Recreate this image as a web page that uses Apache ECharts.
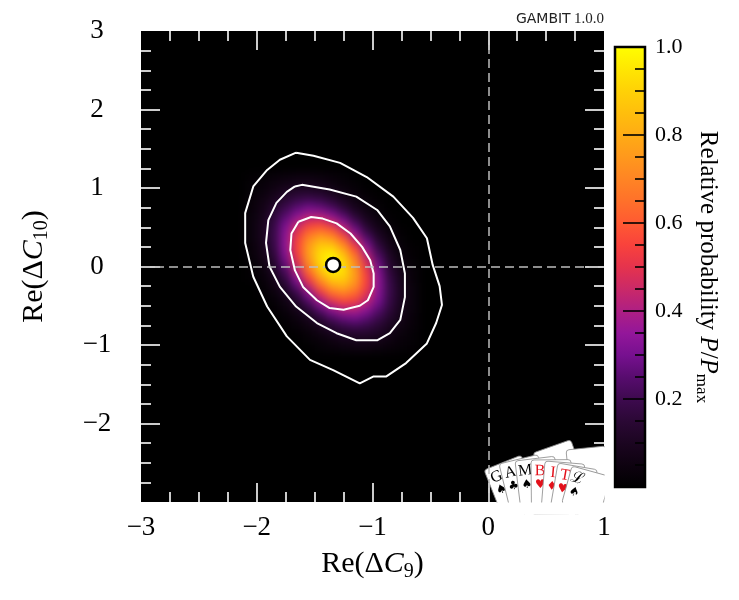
<!DOCTYPE html>
<html>
<head>
<meta charset="utf-8">
<script src="https://cdn.jsdelivr.net/npm/echarts@6/dist/echarts.min.js"></script>
<style>
  html, body { margin: 0; padding: 0; background: #fff; }
  #wrap { position: relative; width: 739px; height: 600px; }
  #heat, #main { position: absolute; left: 0; top: 0; width: 739px; height: 600px; }
  #heat { background: #000; filter: blur(4px); }
</style>
</head>
<body>
<div id="wrap"><div id="heat"></div><div id="main"></div></div>
<script>
// axis ranges and tick labels
const xRange = [-3, 1];
const yRange = [-3, 3];
const xTicks = [-3, -2, -1, 0, 1];
const yTicks = [-2, -1, 0, 1, 2, 3];
const cbTicks = [0.2, 0.4, 0.6, 0.8, 1.0];

// relative probability (cell centres, step 0.1)
const heatX = [-2.05, -1.95, -1.85, -1.75, -1.65, -1.55, -1.45, -1.35, -1.25, -1.15, -1.05, -0.95, -0.85, -0.75, -0.65];
const heatY = [-1.05, -0.95, -0.85, -0.75, -0.65, -0.55, -0.45, -0.35, -0.25, -0.15, -0.05,
               0.05, 0.15, 0.25, 0.35, 0.45, 0.55, 0.65, 0.75, 0.85, 0.95, 1.05, 1.15];
const heatZ = [
  [0, 0, 0, 0, 0, 0, 0.02, 0.03, 0.04, 0.05, 0.05, 0.04, 0.03, 0.02, 0.01],
  [0, 0, 0, 0, 0, 0.02, 0.03, 0.05, 0.07, 0.08, 0.08, 0.07, 0.05, 0.03, 0.02],
  [0, 0, 0, 0, 0.01, 0.03, 0.06, 0.09, 0.12, 0.13, 0.13, 0.11, 0.07, 0.04, 0.02],
  [0, 0, 0, 0.01, 0.03, 0.06, 0.10, 0.15, 0.19, 0.21, 0.19, 0.15, 0.10, 0.06, 0.03],
  [0, 0, 0, 0.02, 0.05, 0.09, 0.16, 0.23, 0.28, 0.30, 0.26, 0.20, 0.13, 0.07, 0.03],
  [0, 0, 0.01, 0.04, 0.08, 0.15, 0.25, 0.34, 0.40, 0.40, 0.34, 0.25, 0.16, 0.08, 0.04],
  [0, 0, 0.02, 0.06, 0.12, 0.23, 0.36, 0.47, 0.54, 0.52, 0.42, 0.30, 0.18, 0.09, 0.04],
  [0, 0.01, 0.04, 0.09, 0.18, 0.32, 0.48, 0.62, 0.67, 0.62, 0.49, 0.33, 0.19, 0.09, 0.04],
  [0, 0.02, 0.06, 0.13, 0.26, 0.43, 0.62, 0.76, 0.80, 0.71, 0.54, 0.34, 0.19, 0.09, 0.04],
  [0.01, 0.03, 0.08, 0.18, 0.34, 0.55, 0.75, 0.89, 0.89, 0.76, 0.55, 0.34, 0.18, 0.08, 0.03],
  [0.01, 0.04, 0.11, 0.23, 0.42, 0.65, 0.86, 0.97, 0.93, 0.76, 0.53, 0.32, 0.16, 0.07, 0.03],
  [0.02, 0.06, 0.13, 0.28, 0.48, 0.72, 0.92, 1.00, 0.92, 0.72, 0.48, 0.28, 0.13, 0.06, 0.02],
  [0.03, 0.07, 0.16, 0.32, 0.53, 0.76, 0.93, 0.97, 0.86, 0.65, 0.42, 0.23, 0.11, 0.04, 0.01],
  [0.03, 0.08, 0.18, 0.34, 0.55, 0.76, 0.89, 0.89, 0.75, 0.55, 0.34, 0.18, 0.08, 0.03, 0.01],
  [0.04, 0.09, 0.19, 0.34, 0.54, 0.71, 0.80, 0.76, 0.62, 0.43, 0.26, 0.13, 0.06, 0.02, 0],
  [0.04, 0.09, 0.19, 0.33, 0.49, 0.62, 0.67, 0.62, 0.48, 0.32, 0.18, 0.09, 0.04, 0.01, 0],
  [0.04, 0.09, 0.18, 0.30, 0.42, 0.52, 0.54, 0.47, 0.36, 0.23, 0.12, 0.06, 0.02, 0, 0],
  [0.04, 0.08, 0.16, 0.25, 0.34, 0.40, 0.40, 0.34, 0.25, 0.15, 0.08, 0.04, 0.01, 0, 0],
  [0.03, 0.07, 0.13, 0.20, 0.26, 0.30, 0.28, 0.23, 0.16, 0.09, 0.05, 0.02, 0, 0, 0],
  [0.03, 0.06, 0.10, 0.15, 0.19, 0.21, 0.19, 0.15, 0.10, 0.06, 0.03, 0.01, 0, 0, 0],
  [0.02, 0.04, 0.07, 0.11, 0.13, 0.13, 0.12, 0.09, 0.06, 0.03, 0.01, 0, 0, 0, 0],
  [0.02, 0.03, 0.05, 0.07, 0.08, 0.08, 0.07, 0.05, 0.03, 0.02, 0, 0, 0, 0, 0],
  [0.01, 0.02, 0.03, 0.04, 0.05, 0.05, 0.04, 0.03, 0.02, 0, 0, 0, 0, 0, 0]
];

// 1, 2 and 3 sigma contours
const contour1 = [[-1.64, 0.57], [-1.53, 0.63], [-1.43, 0.61], [-1.31, 0.55], [-1.19, 0.42], [-1.09, 0.25],
  [-1.02, 0.08], [-0.99, -0.09], [-0.99, -0.26], [-1.04, -0.43], [-1.11, -0.50], [-1.25, -0.55],
  [-1.37, -0.53], [-1.48, -0.43], [-1.60, -0.26], [-1.67, -0.05], [-1.71, 0.21], [-1.70, 0.42], [-1.64, 0.57]];
const contour2 = [[-1.67, 1.02], [-1.61, 1.04], [-1.37, 0.98], [-1.14, 0.89], [-0.96, 0.72], [-0.85, 0.51],
  [-0.76, 0.21], [-0.72, -0.09], [-0.72, -0.39], [-0.76, -0.68], [-0.85, -0.85], [-0.96, -0.94],
  [-1.14, -0.94], [-1.31, -0.85], [-1.48, -0.72], [-1.66, -0.51], [-1.80, -0.26], [-1.89, 0.00],
  [-1.92, 0.30], [-1.90, 0.59], [-1.83, 0.81], [-1.74, 0.95], [-1.67, 1.02]];
const contour3 = [[-1.66, 1.45], [-1.51, 1.41], [-1.28, 1.32], [-1.05, 1.14], [-0.82, 0.89], [-0.65, 0.62],
  [-0.53, 0.36], [-0.48, 0.02], [-0.42, -0.25], [-0.40, -0.49], [-0.45, -0.72], [-0.53, -0.98],
  [-0.71, -1.23], [-0.88, -1.40], [-0.99, -1.40], [-1.11, -1.49], [-1.34, -1.32], [-1.54, -1.19],
  [-1.74, -0.89], [-1.91, -0.51], [-2.03, -0.13], [-2.10, 0.30], [-2.10, 0.68], [-2.03, 1.02],
  [-1.91, 1.23], [-1.80, 1.36], [-1.66, 1.45]];
const bestFit = [[-1.34, 0.02]];

// colour map, evenly spaced from 0 to 1
const cmap = ['#000000', '#0d020f', '#1b0520', '#2a0834', '#3d0a4e', '#570c6e', '#76108f', '#93169a',
  '#ae1f84', '#ca2968', '#e5334d', '#f9423c', '#ff5a32', '#ff712a', '#ff8524', '#ff991c',
  '#ffac14', '#ffbf0c', '#ffd206', '#ffe802', '#ffff00'];

const G = { left: 141, top: 31, right: 135, bottom: 98 };
const serif = 'Liberation Serif';
const minus = v => (v < 0 ? '\u2212' + (-v) : '' + v);

// ---------- heat map layer (blurred underneath) ----------
const heatDiv = document.getElementById('heat');
heatDiv.style.clipPath = `inset(${G.top}px ${G.right}px ${G.bottom}px ${G.left}px)`;

const xCats = [], yCats = [];
for (let i = 0; i < 40; i++) xCats.push((xRange[0] + 0.05 + i * 0.1).toFixed(2));
for (let j = 0; j < 60; j++) yCats.push((yRange[0] + 0.05 + j * 0.1).toFixed(2));
const heatData = [];
heatY.forEach((y, j) => {
  heatX.forEach((x, i) => {
    const v = heatZ[j][i];
    if (v > 0) heatData.push([xCats.indexOf(x.toFixed(2)), yCats.indexOf(y.toFixed(2)), v]);
  });
});

const heatChart = echarts.init(heatDiv);
heatChart.setOption({
  animation: false,
  grid: Object.assign({ show: true, backgroundColor: '#000', borderWidth: 0, outerBoundsMode: 'none' }, G),
  xAxis: { type: 'category', data: xCats, show: false },
  yAxis: { type: 'category', data: yCats, show: false },
  visualMap: { show: false, min: 0, max: 1, dimension: 2, inRange: { color: cmap } },
  series: [{ type: 'heatmap', data: heatData, progressive: 0 }]
});

// ---------- main layer ----------
const tickW = { color: '#fff', width: 1.6 };
const nameRich = (size, sub) => ({
  n: { fontFamily: serif, fontSize: size, lineHeight: size * 1.2, color: '#000' },
  i: { fontFamily: serif, fontSize: size, lineHeight: size * 1.2, fontStyle: 'italic', color: '#000' },
  s: { fontFamily: serif, fontSize: sub, lineHeight: sub, verticalAlign: 'bottom', color: '#000' }
});

function frameAxis(pos, range, ticks, label) {
  return {
    type: 'value', position: pos, min: range[0], max: range[1], interval: 1,
    axisLine: { show: false, onZero: false }, splitLine: { show: false },
    axisTick: { show: true, inside: true, length: 19, lineStyle: tickW, customValues: ticks.filter(t => t > range[0] && t < range[1]) },
    minorTick: { show: true, splitNumber: 4, length: 10, lineStyle: tickW },
    axisLabel: label || { show: false }
  };
}

// colour bar ticks every 0.05, long ones at the labels
const cbTickMarks = [];
for (let k = 1; k < 20; k++) cbTickMarks.push([1, k * 0.05, k % 4 === 0 ? 22 : 10]);
const cbGradient = new echarts.graphic.LinearGradient(0, 1, 0, 0,
  cmap.map((c, i) => ({ offset: i / (cmap.length - 1), color: c })));

const cardLetters = ['G', 'A', 'M', 'B', 'I', 'T', '\u2112'];
const cardSuits = ['\u2660', '\u2663', '\u2660', '\u2665', '\u2666', '\u2665', '\u2660'];
const cardRed = [false, false, false, true, true, true, false];
const cardPos = [[484, 470, 0.38], [499, 464, 0.24], [515, 461, 0.12], [531, 460, 0.01],
  [545, 461, -0.08], [558, 463, -0.17], [572, 466, -0.27]];
const cardW = 40, cardCut = 514;

function card(x, y, rot, letter, suit, col) {
  // card length chosen so that its lowest corner ends just under the plot frame
  const h = (cardCut - y - Math.max(0, -cardW * Math.sin(rot))) / Math.cos(rot);
  const kids = [{ type: 'rect', shape: { x: 0, y: 0, width: cardW, height: h, r: 3 },
    style: { fill: '#fff', stroke: '#8c8c8c', lineWidth: 0.8 } }];
  if (letter) {
    kids.push({ type: 'text', x: 9, y: 11, style: { text: letter, fontFamily: serif, fontSize: 16, fill: col,
      align: 'center', verticalAlign: 'middle', textAlign: 'center', textVerticalAlign: 'middle' } });
    kids.push({ type: 'text', x: 9, y: 25, style: { text: suit, fontFamily: 'DejaVu Sans', fontSize: 12, fill: col,
      align: 'center', verticalAlign: 'middle', textAlign: 'center', textVerticalAlign: 'middle' } });
  }
  return { type: 'group', x: x, y: y, rotation: rot, z: 100, children: kids };
}

const logo = [card(533, 453, 0.34), card(566, 450, 0.1)];
cardLetters.forEach((l, i) => {
  const p = cardPos[i];
  logo.push(card(p[0], p[1], p[2], l, cardSuits[i], cardRed[i] ? '#e3101a' : '#000'));
});
logo.push({ type: 'rect', z: 101, shape: { x: 470, y: 502.5, width: 150, height: cardCut - 502 }, style: { fill: '#fff' } });
logo.push({ type: 'rect', z: 101, shape: { x: 604.6, y: 420, width: 8.6, height: 95 }, style: { fill: '#fff' } });

const chart = echarts.init(document.getElementById('main'));
chart.setOption({
  animation: false,
  grid: [
    Object.assign({ outerBoundsMode: 'none' }, G),
    { left: 615, top: 47, width: 30, height: 440, show: false, outerBoundsMode: 'none' }
  ],
  xAxis: [
    Object.assign(frameAxis('bottom', xRange, xTicks,
      { customValues: xTicks, formatter: minus, fontFamily: serif, fontSize: 27, color: '#000', margin: 12 }), {
      name: '{n|Re(\u0394}{i|C}{s|9}{n|)}', nameLocation: 'middle', nameGap: 44,
      nameTextStyle: { rich: nameRich(30, 20) }
    }),
    frameAxis('top', xRange, xTicks, null),
    { gridIndex: 1, type: 'value', min: 0, max: 1, show: false }
  ],
  yAxis: [
    Object.assign(frameAxis('left', yRange, yTicks,
      { customValues: yTicks, formatter: minus, fontFamily: serif, fontSize: 27, color: '#000', margin: 44, align: 'center' }), {
      name: '{n|Re(\u0394}{i|C}{s|10}{n|)}', nameLocation: 'middle', nameGap: 89, nameRotate: 90,
      nameTextStyle: { rich: nameRich(30, 20) }
    }),
    frameAxis('right', yRange, yTicks, null),
    {
      gridIndex: 1, type: 'value', position: 'right', min: 0, max: 1, interval: 0.2,
      axisLine: { show: false, onZero: false }, splitLine: { show: false },
      axisTick: { show: false }, minorTick: { show: false },
      axisLabel: { customValues: cbTicks, formatter: v => v.toFixed(1), fontFamily: serif, fontSize: 22, color: '#000', margin: 10 },
      name: '{n|Relative probability }{i|P}{n|/}{i|P}{s|max}', nameLocation: 'middle', nameGap: 48, nameRotate: -90,
      nameTextStyle: { rich: nameRich(25, 17) }
    }
  ],
  series: [
    { type: 'line', data: contour1, symbol: 'none', silent: true, z: 3, lineStyle: { color: '#fff', width: 2 },
      markLine: { symbol: 'none', silent: true, label: { show: false }, animation: false,
        lineStyle: { color: '#bdbdbd', type: [9, 5], width: 1.5 }, data: [{ xAxis: 0 }, { yAxis: 0 }] } },
    { type: 'line', data: contour2, symbol: 'none', silent: true, z: 3, lineStyle: { color: '#fff', width: 2 } },
    { type: 'line', data: contour3, symbol: 'none', silent: true, z: 3, lineStyle: { color: '#fff', width: 2 } },
    { type: 'scatter', data: bestFit, symbolSize: 14, z: 10,
      itemStyle: { color: '#fff', borderColor: '#000', borderWidth: 2.5, opacity: 1 } },
    // colour bar body
    { type: 'custom', xAxisIndex: 2, yAxisIndex: 2, data: [[0, 0, 1, 1]], silent: true, z: 4, clip: false,
      renderItem: (params, api) => {
        const a = api.coord([api.value(0), api.value(1)]);
        const b = api.coord([api.value(2), api.value(3)]);
        return { type: 'rect', shape: { x: a[0], y: b[1], width: b[0] - a[0], height: a[1] - b[1] },
          style: { fill: cbGradient, stroke: '#000', lineWidth: 2.5 } };
      } },
    // colour bar ticks
    { type: 'custom', xAxisIndex: 2, yAxisIndex: 2, data: cbTickMarks, silent: true, z: 6, clip: false,
      renderItem: (params, api) => {
        const p = api.coord([api.value(0), api.value(1)]);
        return { type: 'line', shape: { x1: p[0], y1: p[1], x2: p[0] - api.value(2), y2: p[1] },
          style: { stroke: '#000', lineWidth: 1.6 } };
      } }
  ],
  graphic: [
    { type: 'text', x: 604, y: 19, z: 100, style: { text: '{a|GAMBIT} {b|1.0.0}', align: 'right', verticalAlign: 'middle',
      textAlign: 'right', textVerticalAlign: 'middle',
      rich: { a: { fontFamily: 'DejaVu Sans', fontSize: 14, fill: '#222' }, b: { fontFamily: serif, fontSize: 15, fill: '#222' } } } },
    { type: 'group', z: 100, children: logo }
  ]
});
</script>
</body>
</html>
